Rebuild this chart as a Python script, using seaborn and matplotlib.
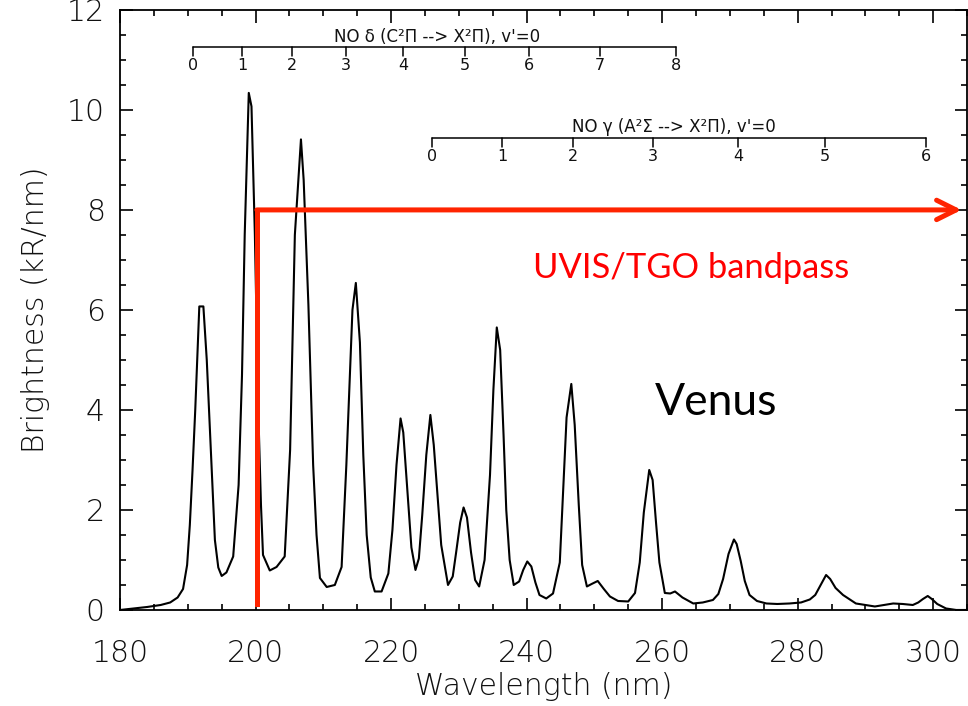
import matplotlib
matplotlib.use('Agg')
import matplotlib.pyplot as plt
import pandas as pd
import seaborn as sns
from matplotlib.ticker import MultipleLocator

# spectrum (nm, kR/nm)
wavelength = [
    180.0, 182.0, 184.0, 186.0, 187.4, 188.5, 189.3, 189.9, 190.3, 190.7,
    191.1, 191.7, 192.3, 192.8, 193.5, 194.0, 194.5, 195.0, 195.7, 196.7,
    197.5, 198.0, 198.4, 199.0, 199.4, 199.9, 200.4, 200.8, 201.1, 202.1,
    203.1, 204.3, 205.1, 205.8, 206.7, 207.1, 207.8, 208.5, 209.0, 209.5,
    210.5, 211.7, 212.7, 213.4, 214.3, 214.8, 215.4, 215.9, 216.4, 217.0,
    217.6, 218.6, 219.6, 220.2, 220.8, 221.4, 221.8, 222.4, 223.0, 223.6,
    224.1, 224.6, 225.2, 225.8, 226.3, 226.9, 227.4, 228.4, 229.1, 229.6,
    230.2, 230.7, 231.2, 231.8, 232.4, 233.0, 233.8, 234.6, 235.1, 235.6,
    236.1, 236.6, 237.0, 237.5, 238.1, 238.9, 239.5, 240.1, 240.7, 241.3,
    241.9, 242.9, 243.9, 244.9, 245.4, 245.9, 246.6, 247.1, 247.7, 248.2,
    248.9, 249.6, 250.5, 251.4, 252.3, 253.5, 255.0, 256.0, 256.7, 257.3,
    258.1, 258.6, 259.1, 259.6, 260.4, 261.2, 261.9, 263.0, 264.6, 266.0,
    267.5, 268.3, 269.0, 269.8, 270.6, 271.0, 271.6, 272.2, 272.9, 274.0,
    275.4, 277.0, 278.8, 280.5, 281.8, 282.6, 283.4, 284.2, 284.8, 285.6,
    286.7, 288.6, 290.0, 291.4, 292.8, 294.1, 295.5, 297.0, 297.8, 298.5,
    299.2, 299.8, 300.6, 301.9, 303.4, 305.0,
]
brightness = [
    0.00, 0.03, 0.06, 0.10, 0.15, 0.25, 0.42, 0.90, 1.70, 2.80,
    4.00, 6.07, 6.07, 5.00, 2.90, 1.40, 0.85, 0.68, 0.75, 1.07,
    2.50, 4.70, 7.50, 10.34, 10.07, 7.50, 4.00, 2.10, 1.10, 0.79,
    0.86, 1.07, 3.20, 7.50, 9.41, 8.60, 6.10, 2.90, 1.50, 0.64,
    0.46, 0.50, 0.86, 2.90, 6.00, 6.54, 5.35, 3.10, 1.50, 0.65,
    0.37, 0.37, 0.73, 1.60, 2.90, 3.83, 3.55, 2.40, 1.25, 0.80,
    1.03, 1.90, 3.10, 3.90, 3.30, 2.20, 1.30, 0.50, 0.67, 1.15,
    1.75, 2.05, 1.85, 1.15, 0.60, 0.47, 1.00, 2.70, 4.40, 5.65,
    5.20, 3.50, 2.00, 1.00, 0.50, 0.57, 0.80, 0.97, 0.87, 0.55,
    0.30, 0.23, 0.33, 0.95, 2.40, 3.85, 4.52, 3.70, 2.10, 0.90,
    0.47, 0.52, 0.58, 0.42, 0.27, 0.18, 0.17, 0.34, 0.95, 1.95,
    2.80, 2.60, 1.75, 0.95, 0.34, 0.33, 0.37, 0.25, 0.13, 0.15,
    0.20, 0.32, 0.62, 1.12, 1.41, 1.32, 0.98, 0.58, 0.30, 0.18,
    0.13, 0.12, 0.13, 0.15, 0.21, 0.30, 0.50, 0.70, 0.62, 0.44,
    0.30, 0.13, 0.10, 0.07, 0.10, 0.13, 0.12, 0.10, 0.15, 0.22,
    0.28, 0.22, 0.12, 0.03, 0.00, 0.00,
]

# band positions (nm) for the two v'=0 progressions
delta_bands = [190.8, 198.0, 205.4, 213.3, 221.8, 230.9, 240.4, 250.8, 262.1]
delta_labels = ['0', '1', '2', '3', '4', '5', '6', '7', '8']
gamma_bands = [226.1, 236.4, 246.9, 258.6, 271.2, 284.0, 299.0]
gamma_labels = ['0', '1', '2', '3', '4', '5', '6']

bandpass_start = 200.2
bandpass_end = 304.2
bandpass_level = 8.0

df = pd.DataFrame({'wavelength': wavelength, 'brightness': brightness})

sns.set_style('ticks')
plt.rcParams['font.family'] = ['DejaVu Sans']

fig = plt.figure(figsize=(9.68, 7.06), dpi=100)
ax = fig.add_axes([0.124, 0.136, 0.875, 0.850])

sns.lineplot(data=df, x='wavelength', y='brightness', color='black',
             linewidth=1.5, ax=ax)

ax.set_xlim(180, 305)
ax.set_ylim(0, 12)
ax.xaxis.set_major_locator(MultipleLocator(20))
ax.xaxis.set_minor_locator(MultipleLocator(5))
ax.yaxis.set_major_locator(MultipleLocator(2))
ax.yaxis.set_minor_locator(MultipleLocator(0.5))
ax.tick_params(which='both', direction='in', top=True, right=True,
               width=1.2, color='black', labelcolor='#111111', labelsize=21.5)
ax.tick_params(which='major', length=9)
ax.tick_params(which='minor', length=4.5)
ax.tick_params(axis='x', pad=21)
ax.tick_params(axis='y', pad=11)
for lab in ax.get_xticklabels() + ax.get_yticklabels():
    lab.set_fontweight('light')
for s in ax.spines.values():
    s.set_linewidth(1.3)
    s.set_color('black')

ax.set_xlabel('Wavelength (nm)', fontsize=21.5, color='#111111', labelpad=3,
              fontweight='light')
ax.set_ylabel('Brightness (kR/nm)', fontsize=21.5, color='#111111', labelpad=12,
              fontweight='light')


def band_scale(pos, labels, y_line, title, title_x, title_y):
    ax.plot([pos[0], pos[-1]], [y_line, y_line], color='black', lw=1.1)
    for p, lab in zip(pos, labels):
        ax.plot([p, p], [y_line, y_line - 0.18], color='black', lw=1.1)
        ax.text(p, y_line - 0.22, lab, ha='center', va='top', fontsize=11.5,
                color='#111111')
    ax.text(title_x, title_y, title, ha='center', va='baseline', fontsize=12,
            color='#111111')


band_scale(delta_bands, delta_labels, 11.26,
           "NO δ (C²Π --> X²Π), v'=0", 226.8, 11.36)
band_scale(gamma_bands, gamma_labels, 9.44,
           "NO γ (A²Σ --> X²Π), v'=0", 261.7, 9.56)

# instrument bandpass marker
red = '#ff2400'
ax.plot([bandpass_start, bandpass_start], [0.12, bandpass_level], color=red,
        lw=3.6, solid_capstyle='projecting')
ax.annotate('', xy=(bandpass_end, bandpass_level),
            xytext=(bandpass_start, bandpass_level),
            arrowprops=dict(arrowstyle='->,head_length=0.7,head_width=0.35',
                            color=red, lw=3.6, shrinkA=0, shrinkB=0,
                            mutation_scale=20))

ax.text(240.9, 6.63, 'UVIS/TGO bandpass', color='#ff0000', fontsize=24.8,
        family=['Lato', 'DejaVu Sans'], ha='left', va='baseline')
ax.text(258.9, 3.9, 'Venus', color='black', fontsize=32,
        family=['Lato', 'DejaVu Sans'], ha='left', va='baseline')

fig.savefig('out.png', dpi=100)
